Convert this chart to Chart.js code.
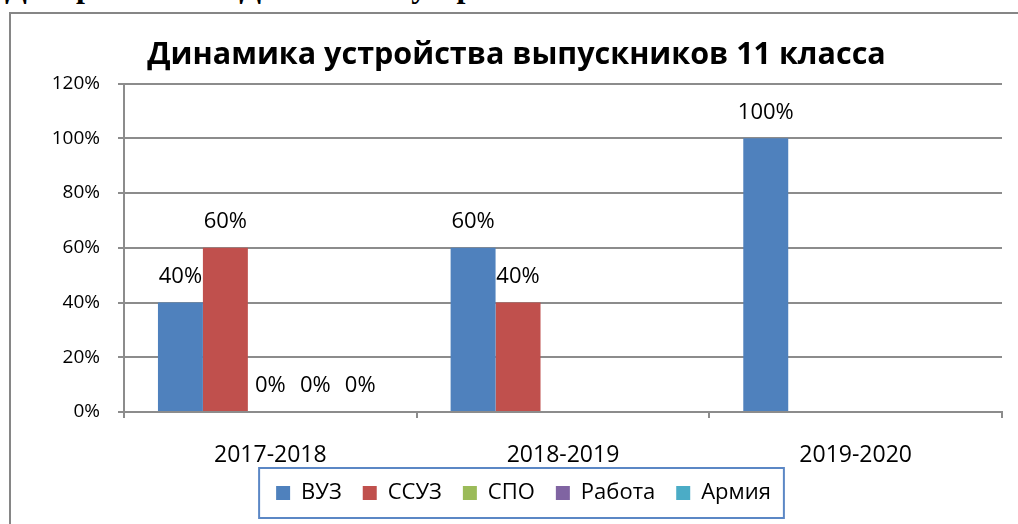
<!DOCTYPE html>
<html>
<head>
<meta charset="utf-8">
<script src="https://cdn.jsdelivr.net/npm/chart.js@4/dist/chart.umd.min.js"></script>
<style>
  html, body { margin: 0; padding: 0; background: #fff; overflow: hidden; }
  body { width: 1018px; height: 524px; position: relative; }
  #caption {
    position: absolute; left: 5px; top: -30px; white-space: nowrap; word-spacing: 15px;
    font: bold 32px/32px "Liberation Serif", serif; color: #000;
  }
  #frame {
    position: absolute; left: 9px; top: 12px; width: 1040px; height: 540px;
    border-top: 2px solid #868686; border-left: 2px solid #868686;
  }
  #box { position: absolute; left: 0; top: 0; width: 1018px; height: 510px; }
</style>
</head>
<body>
<div id="caption">Диаграмма 1. Динамика устройства</div>
<div id="frame"><div id="box"><canvas id="chart"></canvas></div></div>
<script>
var years = ['2017-2018', '2018-2019', '2019-2020'];
var vuz    = [40, 60, 100];
var ssuz   = [60, 40, null];
var spo    = [0, null, null];
var rabota = [0, null, null];
var armiya = [0, null, null];
var yTicks = [0, 20, 40, 60, 80, 100, 120];

var gridGray = '#8c8c8c';

function series(label, values, color) {
  return {
    label: label,
    data: values,
    backgroundColor: color,
    borderWidth: 0,
    barPercentage: 1,
    categoryPercentage: 0.768
  };
}

var valueLabels = {
  id: 'valueLabels',
  afterDatasetsDraw: function(chart) {
    var ctx = chart.ctx;
    ctx.save();
    ctx.font = '22px "Open Sans"';
    ctx.fillStyle = '#000';
    ctx.textAlign = 'center';
    ctx.textBaseline = 'middle';
    chart.data.datasets.forEach(function(ds, i) {
      chart.getDatasetMeta(i).data.forEach(function(bar, j) {
        if (ds.data[j] === null) return;
        ctx.fillText(ds.data[j] + '%', bar.x, bar.y - 26);
      });
    });
    ctx.restore();
  }
};

// title and legend are centred on the whole frame, not on the plot;
// the x labels may run into the legend's top padding
var shiftBlocks = {
  id: 'shiftBlocks',
  afterLayout: function(chart) {
    chart.titleBlock.left += 10; chart.titleBlock.right += 10;
    chart.legend.left += 17; chart.legend.right += 17;
    chart.scales.x.bottom += 16;
  }
};

// Chart.js has no border round the legend, so draw one from the hit boxes
var legendBox = {
  id: 'legendBox',
  afterDraw: function(chart) {
    var hb = chart.legend.legendHitBoxes;
    if (!hb || !hb.length) return;
    var left = Math.min.apply(null, hb.map(function(b) { return b.left; }));
    var right = Math.max.apply(null, hb.map(function(b) { return b.left + b.width; }));
    var mid = hb[0].top + hb[0].height / 2;
    var ctx = chart.ctx;
    ctx.save();
    ctx.strokeStyle = '#5b87c5';
    ctx.lineWidth = 2;
    ctx.strokeRect(left - 17, mid - 25, right - left + 30, 50);
    ctx.restore();
  }
};

new Chart(document.getElementById('chart'), {
  type: 'bar',
  data: {
    labels: years,
    datasets: [
      series('ВУЗ', vuz, '#4f81bd'),
      series('ССУЗ', ssuz, '#c0504d'),
      series('СПО', spo, '#9bbb59'),
      series('Работа', rabota, '#8064a2'),
      series('Армия', armiya, '#4bacc6')
    ]
  },
  options: {
    responsive: true,
    maintainAspectRatio: false,
    animation: false,
    layout: { padding: { left: 0, right: 27, top: 0, bottom: 10 } },
    plugins: {
      title: {
        display: true,
        text: 'Динамика устройства выпускников 11 класса',
        color: '#000',
        font: { family: 'Open Sans', weight: 'bold', size: 30.5 },
        padding: { top: 23, bottom: 10 }
      },
      legend: {
        position: 'bottom',
        labels: {
          color: '#000',
          font: { family: 'Open Sans', size: 22 },
          boxWidth: 14,
          boxHeight: 14,
          padding: 21
        }
      },
      tooltip: { enabled: false }
    },
    scales: {
      x: {
        offset: true,
        grid: { offset: true, drawOnChartArea: false, drawTicks: true, tickLength: 6, color: gridGray, lineWidth: 2 },
        border: { display: true, color: gridGray, width: 2 },
        ticks: { color: '#000', font: { family: 'Open Sans', size: 23 }, padding: 24 },
        afterFit: function(scale) { scale.height = 49; }
      },
      y: {
        min: 0,
        max: 120,
        afterBuildTicks: function(scale) {
          scale.ticks = yTicks.map(function(v) { return { value: v }; });
        },
        ticks: {
          color: '#000',
          font: { family: 'Open Sans', size: 19 },
          padding: 18,
          callback: function(v) { return v + '%'; }
        },
        grid: { color: gridGray, lineWidth: 2, tickLength: 6 },
        border: { display: true, color: gridGray, width: 2 },
        afterFit: function(scale) { scale.width = 113; }
      }
    }
  },
  plugins: [valueLabels, shiftBlocks, legendBox]
});
</script>
</body>
</html>
